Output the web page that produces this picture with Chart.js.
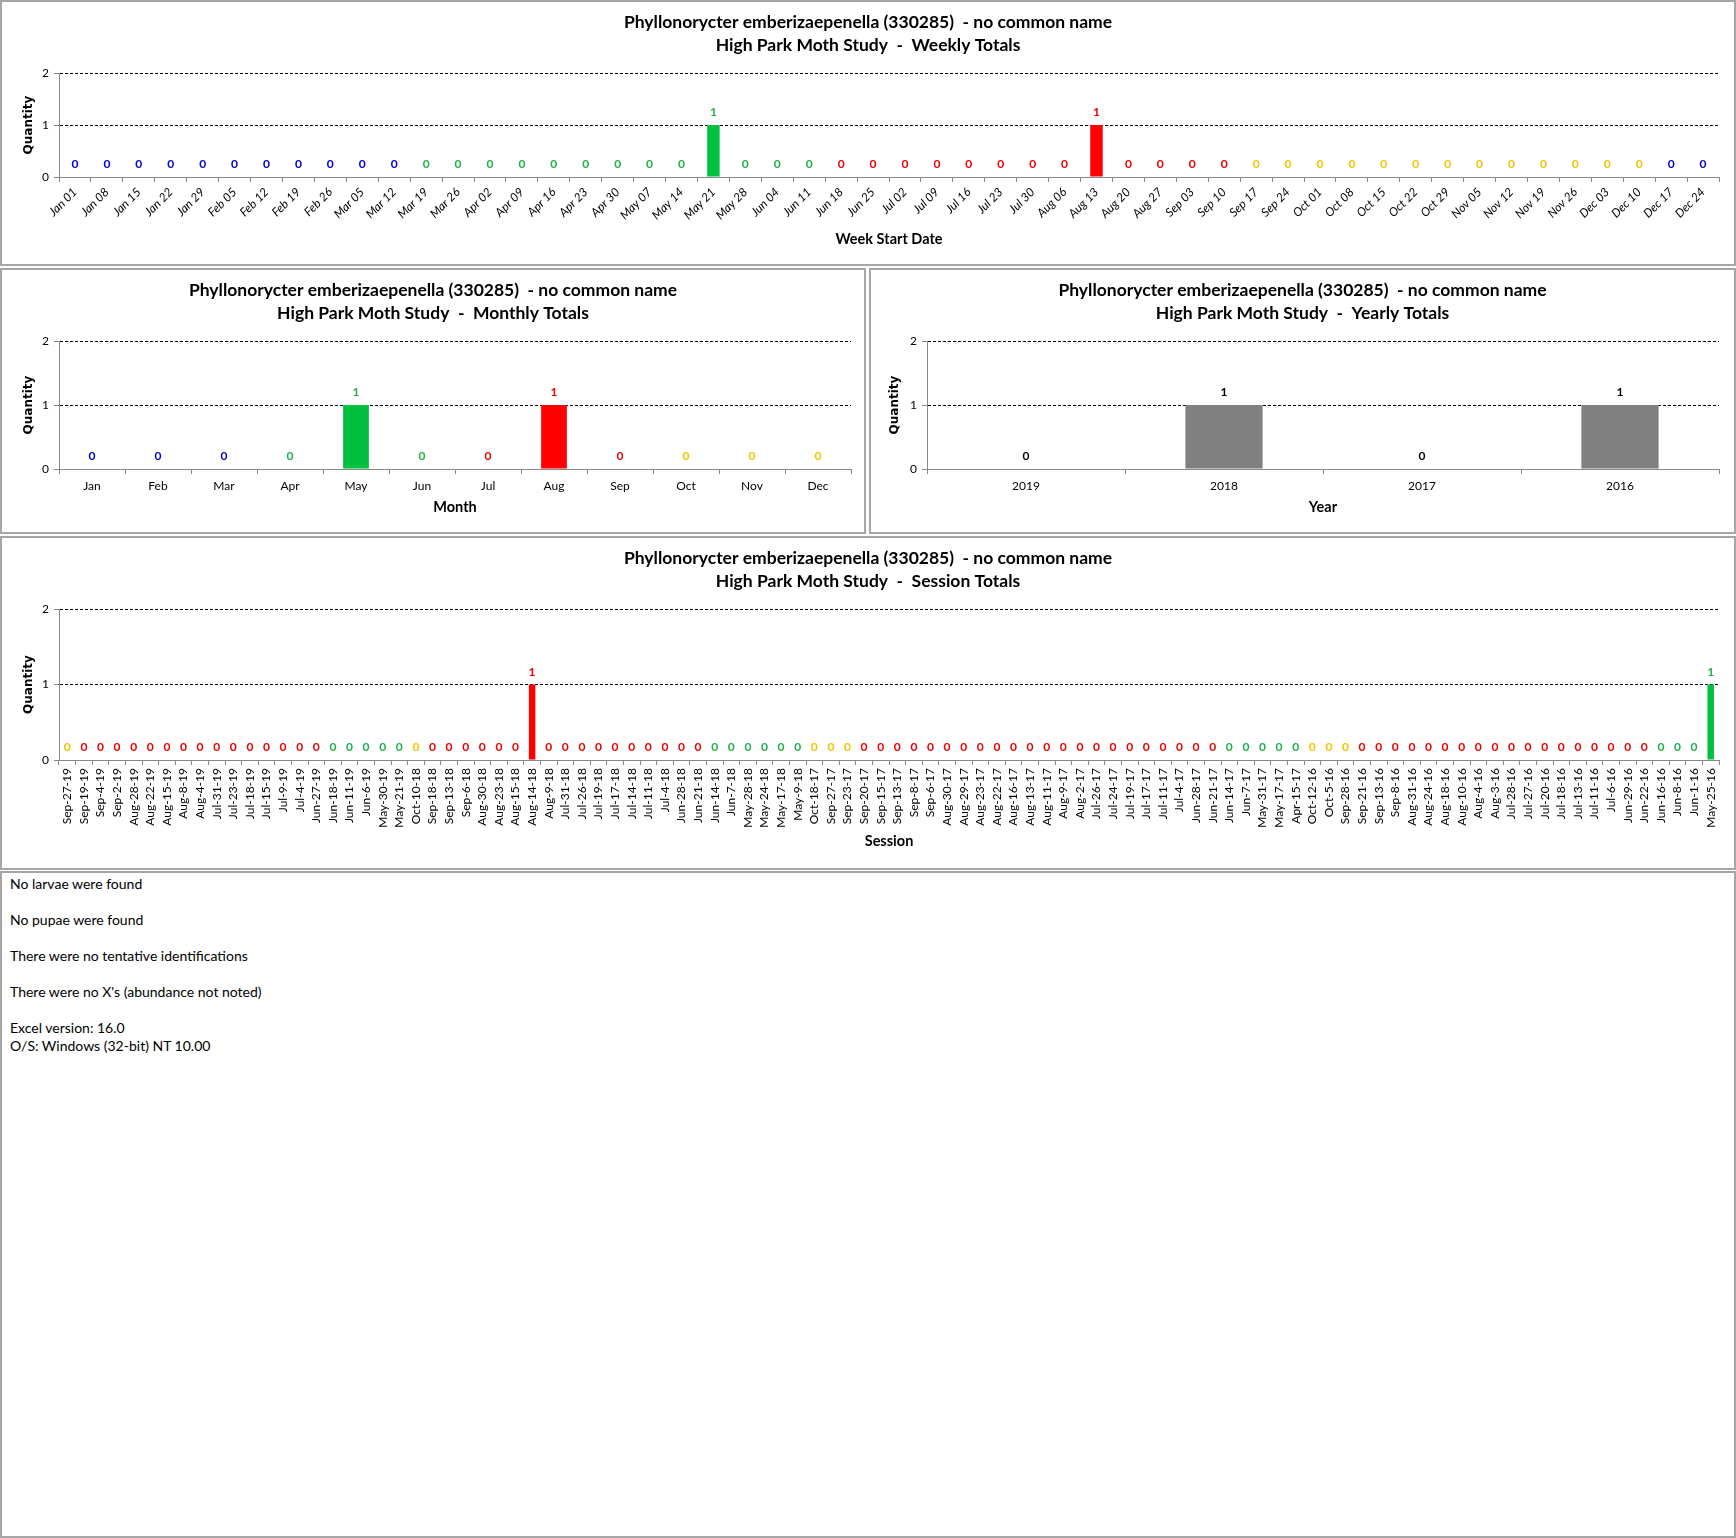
<!DOCTYPE html>
<html>
<head>
<meta charset="utf-8">
<script src="https://cdn.jsdelivr.net/npm/chart.js@4.4.1/dist/chart.umd.min.js"></script>
<style>
  body { margin: 0; background: #fff; font-family: Lato, sans-serif; }
  .panel { position: absolute; box-sizing: border-box; border: 2px solid #a6a6a6; background: #fff; }
  .panel canvas { position: absolute; left: 0; top: 0; }
  #notes { font-size: 14px; line-height: 18px; color: #000; padding: 2px 0 0 8px; }
</style>
</head>
<body>
<div class="panel" style="left:0;top:0;width:1736px;height:266px"><canvas id="weekly" width="1732" height="262"></canvas></div>
<div class="panel" style="left:0;top:268px;width:866px;height:266px"><canvas id="monthly" width="862" height="262"></canvas></div>
<div class="panel" style="left:869px;top:268px;width:867px;height:266px"><canvas id="yearly" width="863" height="262"></canvas></div>
<div class="panel" style="left:0;top:536px;width:1736px;height:334px"><canvas id="session" width="1732" height="330"></canvas></div>
<div class="panel" id="notes" style="left:0;top:871px;width:1736px;height:667px">
  <div>No larvae were found</div><div>&nbsp;</div>
  <div>No pupae were found</div><div>&nbsp;</div>
  <div>There were no tentative identifications</div><div>&nbsp;</div>
  <div>There were no X's (abundance not noted)</div><div>&nbsp;</div>
  <div>Excel version: 16.0</div>
  <div>O/S: Windows (32-bit) NT 10.00</div>
</div>
<script>
const species = "Phyllonorycter emberizaepenella (330285)  - no common name";

const weekLabels = ["Jan 01", "Jan 08", "Jan 15", "Jan 22", "Jan 29", "Feb 05", "Feb 12", "Feb 19", "Feb 26",
  "Mar 05", "Mar 12", "Mar 19", "Mar 26", "Apr 02", "Apr 09", "Apr 16", "Apr 23", "Apr 30", "May 07", "May 14",
  "May 21", "May 28", "Jun 04", "Jun 11", "Jun 18", "Jun 25", "Jul 02", "Jul 09", "Jul 16", "Jul 23", "Jul 30",
  "Aug 06", "Aug 13", "Aug 20", "Aug 27", "Sep 03", "Sep 10", "Sep 17", "Sep 24", "Oct 01", "Oct 08", "Oct 15",
  "Oct 22", "Oct 29", "Nov 05", "Nov 12", "Nov 19", "Nov 26", "Dec 03", "Dec 10", "Dec 17", "Dec 24"];
const weekValues = [0, 0, 0, 0, 0, 0, 0, 0, 0, 0, 0, 0, 0, 0, 0, 0, 0, 0, 0, 0,
  1, 0, 0, 0, 0, 0, 0, 0, 0, 0, 0, 0, 1, 0, 0, 0, 0, 0, 0, 0,
  0, 0, 0, 0, 0, 0, 0, 0, 0, 0, 0, 0];

const monthLabels = ["Jan", "Feb", "Mar", "Apr", "May", "Jun", "Jul", "Aug", "Sep", "Oct", "Nov", "Dec"];
const monthValues = [0, 0, 0, 0, 1, 0, 0, 1, 0, 0, 0, 0];

const yearLabels = ["2019", "2018", "2017", "2016"];
const yearValues = [0, 1, 0, 1];

const sessionLabels = ["Sep-27-19", "Sep-19-19", "Sep-4-19", "Sep-2-19", "Aug-28-19", "Aug-22-19", "Aug-15-19",
  "Aug-8-19", "Aug-4-19", "Jul-31-19", "Jul-23-19", "Jul-18-19", "Jul-15-19", "Jul-9-19", "Jul-4-19", "Jun-27-19",
  "Jun-18-19", "Jun-11-19", "Jun-6-19", "May-30-19", "May-21-19", "Oct-10-18", "Sep-18-18", "Sep-13-18", "Sep-6-18",
  "Aug-30-18", "Aug-23-18", "Aug-15-18", "Aug-14-18", "Aug-9-18", "Jul-31-18", "Jul-26-18", "Jul-19-18", "Jul-17-18",
  "Jul-14-18", "Jul-11-18", "Jul-4-18", "Jun-28-18", "Jun-21-18", "Jun-14-18", "Jun-7-18", "May-28-18", "May-24-18",
  "May-17-18", "May-9-18", "Oct-18-17", "Sep-27-17", "Sep-23-17", "Sep-20-17", "Sep-15-17", "Sep-13-17", "Sep-8-17",
  "Sep-6-17", "Aug-30-17", "Aug-29-17", "Aug-23-17", "Aug-22-17", "Aug-16-17", "Aug-13-17", "Aug-11-17", "Aug-9-17",
  "Aug-2-17", "Jul-26-17", "Jul-24-17", "Jul-19-17", "Jul-17-17", "Jul-11-17", "Jul-4-17", "Jun-28-17", "Jun-21-17",
  "Jun-14-17", "Jun-7-17", "May-31-17", "May-17-17", "Apr-15-17", "Oct-12-16", "Oct-5-16", "Sep-28-16", "Sep-21-16",
  "Sep-13-16", "Sep-8-16", "Aug-31-16", "Aug-24-16", "Aug-18-16", "Aug-10-16", "Aug-4-16", "Aug-3-16", "Jul-28-16",
  "Jul-27-16", "Jul-20-16", "Jul-18-16", "Jul-13-16", "Jul-11-16", "Jul-6-16", "Jun-29-16", "Jun-22-16", "Jun-16-16",
  "Jun-8-16", "Jun-1-16", "May-25-16"];
const sessionValues = [0, 0, 0, 0, 0, 0, 0, 0, 0, 0, 0, 0, 0, 0, 0, 0, 0, 0, 0, 0,
  0, 0, 0, 0, 0, 0, 0, 0, 1, 0, 0, 0, 0, 0, 0, 0, 0, 0, 0, 0,
  0, 0, 0, 0, 0, 0, 0, 0, 0, 0, 0, 0, 0, 0, 0, 0, 0, 0, 0, 0,
  0, 0, 0, 0, 0, 0, 0, 0, 0, 0, 0, 0, 0, 0, 0, 0, 0, 0, 0, 0,
  0, 0, 0, 0, 0, 0, 0, 0, 0, 0, 0, 0, 0, 0, 0, 0, 0, 0, 0, 1];

// season colours: winter blue, spring green, summer red, fall yellow
const MONTHS = ["Jan", "Feb", "Mar", "Apr", "May", "Jun", "Jul", "Aug", "Sep", "Oct", "Nov", "Dec"];
const barCol = { w: "#0000c0", s: "#00c040", u: "#ff0000", f: "#ffcc00" };
const txtCol = { w: "#0000cc", s: "#22b04a", u: "#ee0000", f: "#f2c500" };

function season(month, day) {
  const md = (MONTHS.indexOf(month) + 1) * 100 + day;
  if (md < 320) return "w";
  if (md < 621) return "s";
  if (md < 922) return "u";
  if (md < 1221) return "f";
  return "w";
}
const weekSeason = weekLabels.map(l => season(l.slice(0, 3), parseInt(l.slice(4), 10) + 6));
const monthSeason = monthLabels.map(m => season(m, 1));
const sessionSeason = sessionLabels.map(l => { const p = l.split("-"); return season(p[0], parseInt(p[1], 10)); });

const valueLabels = {
  id: "valueLabels",
  afterDatasetsDraw(chart, args, opts) {
    const ctx = chart.ctx;
    const meta = chart.getDatasetMeta(0);
    const data = chart.data.datasets[0].data;
    ctx.save();
    ctx.font = "bold 12px Lato";
    ctx.textAlign = "center";
    ctx.textBaseline = "middle";
    meta.data.forEach((bar, i) => {
      ctx.fillStyle = opts.colors[i];
      ctx.fillText(String(data[i]), bar.x, bar.y - 12.5);
    });
    ctx.restore();
  }
};

// pad = equal left/right layout padding, so the title centres on the panel
function makeChart(id, o) {
  return new Chart(document.getElementById(id), {
    type: "bar",
    data: {
      labels: o.labels,
      datasets: [{
        data: o.values,
        backgroundColor: o.barColors,
        barPercentage: 0.39,
        categoryPercentage: 1.0,
      }],
    },
    plugins: [valueLabels],
    options: {
      responsive: false,
      animation: false,
      layout: { padding: { left: o.pad, right: o.pad, top: 0, bottom: 0 } },
      plugins: {
        legend: { display: false },
        tooltip: { enabled: false },
        valueLabels: { colors: o.labelColors },
        title: {
          display: true,
          text: [species, "High Park Moth Study  -  " + o.what + " Totals"],
          color: "#000",
          font: { family: "Lato", size: 17.5, weight: "bold", lineHeight: 1.32 },
          padding: { top: 8.5, bottom: 16.3 },
        },
      },
      scales: {
        x: {
          afterFit: s => { s.height = o.xHeight; },
          grid: { display: true, drawOnChartArea: false, drawTicks: true, tickLength: 5, tickColor: "#888", offset: true },
          border: { display: true, color: "#888", width: 1 },
          ticks: {
            color: "#000",
            autoSkip: false,
            minRotation: o.rotation,
            maxRotation: o.rotation,
            padding: o.rotation ? 3 : 5,
            font: { family: "Lato", size: 12, style: o.italic ? "italic" : "normal" },
          },
          title: {
            display: true,
            text: o.xTitle,
            color: "#000",
            font: { family: "Lato", size: 14.5, weight: "bold", lineHeight: 1.2 },
            padding: { top: 0, bottom: o.xTitleBottom },
          },
        },
        y: {
          min: 0,
          max: 2,
          afterFit: s => { s.width = o.yWidth - o.pad; },
          grid: {
            color: c => (c.tick && c.tick.value === 0 ? "transparent" : "#000"),
            lineWidth: 1,
            tickLength: 5,
            tickColor: "#888",
          },
          border: { display: true, color: "#888", width: 1, dash: [3, 2] },
          ticks: { stepSize: 1, color: "#000", padding: 5, font: { family: "Lato", size: 12 } },
          title: {
            display: true,
            text: "Quantity",
            color: "#000",
            font: { family: "DejaVu Sans", size: 12, weight: "bold", lineHeight: 1.2 },
            padding: { top: o.yTitleLeft - o.pad, bottom: 0 },
          },
        },
      },
    },
  });
}

makeChart("weekly", {
  labels: weekLabels, values: weekValues, what: "Weekly", xTitle: "Week Start Date",
  barColors: weekSeason.map(s => barCol[s]), labelColors: weekSeason.map(s => txtCol[s]),
  pad: 15, yWidth: 57, xHeight: 87, xTitleBottom: 15.6, yTitleLeft: 19.5, rotation: 45, italic: true,
});
makeChart("monthly", {
  labels: monthLabels, values: monthValues, what: "Monthly", xTitle: "Month",
  barColors: monthSeason.map(s => barCol[s]), labelColors: monthSeason.map(s => txtCol[s]),
  pad: 13, yWidth: 57, xHeight: 63, xTitleBottom: 15.6, yTitleLeft: 19.5, rotation: 0, italic: false,
});
makeChart("yearly", {
  labels: yearLabels, values: yearValues, what: "Yearly", xTitle: "Year",
  barColors: yearLabels.map(() => "#808080"), labelColors: yearLabels.map(() => "#000"),
  pad: 15, yWidth: 56, xHeight: 63, xTitleBottom: 15.6, yTitleLeft: 17, rotation: 0, italic: false,
});
makeChart("session", {
  labels: sessionLabels, values: sessionValues, what: "Session", xTitle: "Session",
  barColors: sessionSeason.map(s => barCol[s]), labelColors: sessionSeason.map(s => txtCol[s]),
  pad: 15, yWidth: 57, xHeight: 108, xTitleBottom: 17.6, yTitleLeft: 19.5, rotation: 90, italic: false,
});
</script>
</body>
</html>
